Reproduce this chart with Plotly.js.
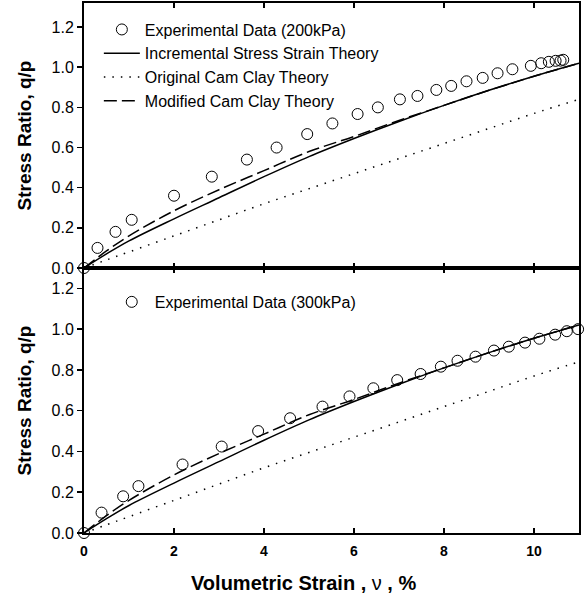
<!DOCTYPE html>
<html>
<head>
<meta charset="utf-8">
<script src="https://cdn.plot.ly/plotly-3.0.1.min.js"></script>
<style>
  html, body { margin: 0; padding: 0; background: #fff; }
  #chart { width: 586px; height: 601px; }
</style>
</head>
<body>
<div id="chart"></div>
<script>
// Experimental data, 200 kPa (top panel)
const exp200X = [0, 0.3, 0.7, 1.06, 2.0, 2.84, 3.62, 4.28, 4.96, 5.52, 6.08, 6.53, 7.02, 7.41, 7.83, 8.16, 8.50, 8.86, 9.19, 9.52, 9.93, 10.16, 10.33, 10.48, 10.59, 10.65];
const exp200Y = [0, 0.10, 0.18, 0.24, 0.36, 0.455, 0.54, 0.60, 0.667, 0.72, 0.767, 0.80, 0.84, 0.857, 0.887, 0.907, 0.93, 0.947, 0.97, 0.99, 1.007, 1.02, 1.027, 1.032, 1.033, 1.037];

// Experimental data, 300 kPa (bottom panel)
const exp300X = [0, 0.39, 0.87, 1.21, 2.19, 3.06, 3.87, 4.58, 5.30, 5.90, 6.43, 6.96, 7.48, 7.93, 8.30, 8.70, 9.11, 9.44, 9.80, 10.12, 10.47, 10.73, 10.98];
const exp300Y = [0, 0.10, 0.18, 0.23, 0.336, 0.424, 0.50, 0.563, 0.62, 0.67, 0.71, 0.75, 0.78, 0.816, 0.845, 0.865, 0.895, 0.914, 0.934, 0.953, 0.973, 0.99, 1.0];

// Theory curves
const theoryX = [0, 0.5, 1, 2, 3, 4, 5, 6, 7, 8, 9, 10, 11];
const incremental = [0, 0.07, 0.135, 0.245, 0.35, 0.455, 0.555, 0.645, 0.73, 0.81, 0.885, 0.955, 1.02];
const originalCam = [0, 0.04, 0.08, 0.16, 0.24, 0.32, 0.395, 0.47, 0.545, 0.62, 0.695, 0.77, 0.84];
const modifiedCam = [0, 0.085, 0.16, 0.285, 0.39, 0.485, 0.58, 0.655, 0.735, 0.81, 0.885, 0.955, 1.02];

const xTicks = [0, 2, 4, 6, 8, 10];
const yTicks = [0, 0.2, 0.4, 0.6, 0.8, 1.0, 1.2];
const yTickText = ['0.0', '0.2', '0.4', '0.6', '0.8', '1.0', '1.2'];

const FONT = 'Liberation Sans, Arial, Helvetica, sans-serif';
const marker = { symbol: 'circle-open', size: 11, color: '#000', line: { width: 1, color: '#000' } };
const solidLine = { color: '#000', width: 1.5, shape: 'spline' };
const dotLine = { color: '#000', width: 1.5, dash: '1.5px,7px', shape: 'spline' };
const dashLine = { color: '#000', width: 1.5, dash: '13px,5px', shape: 'spline' };

const traces = [
  { x: exp200X, y: exp200Y, xaxis: 'x2', yaxis: 'y2', mode: 'markers', marker: marker,
    name: 'Experimental Data (200kPa)', legend: 'legend', cliponaxis: false },
  { x: theoryX, y: incremental, xaxis: 'x2', yaxis: 'y2', mode: 'lines', line: solidLine,
    name: 'Incremental Stress Strain Theory', legend: 'legend' },
  { x: theoryX, y: originalCam, xaxis: 'x2', yaxis: 'y2', mode: 'lines', line: dotLine,
    name: 'Original Cam Clay Theory', legend: 'legend' },
  { x: theoryX, y: modifiedCam, xaxis: 'x2', yaxis: 'y2', mode: 'lines', line: dashLine,
    name: 'Modified Cam Clay Theory', legend: 'legend' },

  { x: exp300X, y: exp300Y, xaxis: 'x', yaxis: 'y', mode: 'markers', marker: marker,
    name: 'Experimental Data (300kPa)', legend: 'legend2', cliponaxis: false },
  { x: theoryX, y: incremental, xaxis: 'x', yaxis: 'y', mode: 'lines', line: solidLine,
    name: 'Incremental Stress Strain Theory', showlegend: false },
  { x: theoryX, y: originalCam, xaxis: 'x', yaxis: 'y', mode: 'lines', line: dotLine,
    name: 'Original Cam Clay Theory', showlegend: false },
  { x: theoryX, y: modifiedCam, xaxis: 'x', yaxis: 'y', mode: 'lines', line: dashLine,
    name: 'Modified Cam Clay Theory', showlegend: false }
];

const yTitle = { text: 'Stress Ratio, q/p', font: { family: FONT, size: 19, weight: 'bold', color: '#000' }, standoff: 15 };

function yAxis(domain, range) {
  return {
    domain: domain, range: range, tickvals: yTicks, ticktext: yTickText,
    ticks: 'outside', ticklen: 5, tickwidth: 1.5, tickcolor: '#000',
    showline: true, linewidth: 2, linecolor: '#000', mirror: true,
    showgrid: false, zeroline: false,
    tickfont: { family: FONT, size: 16, color: '#000' },
    title: yTitle
  };
}
function xAxis(anchor, labels) {
  return {
    anchor: anchor, range: [0, 11], tickvals: xTicks,
    ticks: 'inside', ticklen: 5, tickwidth: 1.5, tickcolor: '#000',
    showline: true, linewidth: 2, linecolor: '#000', mirror: 'ticks',
    showgrid: false, zeroline: false, showticklabels: labels,
    ticklabelstandoff: 4,
    tickfont: { family: FONT, size: 14, weight: 'bold', color: '#000' }
  };
}

const xa = xAxis('y', true);
const xa2 = xAxis('y2', false);
xa2.matches = 'x';

const layout = {
  width: 586, height: 601,
  margin: { l: 84, r: 7, t: 3, b: 68 },
  paper_bgcolor: '#fff', plot_bgcolor: '#fff',
  font: { family: FONT, color: '#000' },
  xaxis: xa,
  xaxis2: xa2,
  yaxis: yAxis([0, 0.5], [0, 1.3]),
  yaxis2: yAxis([0.5, 1], [0, 1.32]),
  annotations: [{
    text: 'Volumetric Strain , <span style="font-weight:normal">ν</span> , %',
    xref: 'paper', yref: 'paper', x: 0.444, y: -0.094,
    xanchor: 'center', yanchor: 'middle', showarrow: false,
    font: { family: FONT, size: 20, weight: 'bold', color: '#000' }
  }],
  legend: {
    x: 0.030, y: 0.982, xanchor: 'left', yanchor: 'top',
    bgcolor: 'rgba(0,0,0,0)', borderwidth: 0,
    font: { family: FONT, size: 16, color: '#000' },
    itemwidth: 36, tracegroupgap: 0, traceorder: 'normal'
  },
  legend2: {
    x: 0.05, y: 0.468, xanchor: 'left', yanchor: 'top',
    bgcolor: 'rgba(0,0,0,0)', borderwidth: 0,
    font: { family: FONT, size: 16, color: '#000' },
    itemwidth: 36
  },
  showlegend: true
};

Plotly.newPlot('chart', traces, layout, { displayModeBar: false, staticPlot: true });
</script>
</body>
</html>
